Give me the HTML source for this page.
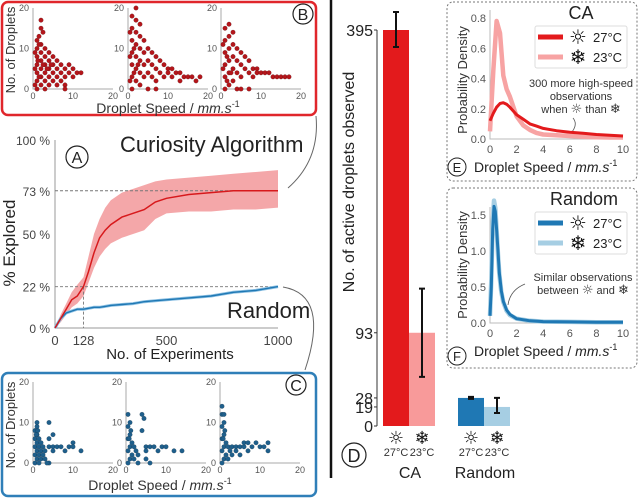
<!DOCTYPE html>
<html><head><meta charset="utf-8">
<style>
html,body{margin:0;padding:0;background:#fff;}
svg{display:block;font-family:"Liberation Sans","DejaVu Sans",sans-serif;}
.ic{font-family:"DejaVu Sans",sans-serif;}
</style></head>
<body>
<svg id="fig" width="640" height="499" viewBox="0 0 640 499" xmlns="http://www.w3.org/2000/svg">
<rect x="2" y="2" width="314" height="113" rx="6" fill="none" stroke="#e0262b" stroke-width="2.5"/>
<text x="-50" y="15" transform="rotate(-90)" text-anchor="middle" font-size="13" fill="#333">No. of Droplets</text>
<text x="168" y="113" text-anchor="middle" font-size="14" fill="#333">Droplet Speed / <tspan font-style="italic">mm.s</tspan><tspan font-size="9" dy="-6">-1</tspan></text>
<circle cx="303" cy="14" r="10" fill="#fff" stroke="#222" stroke-width="1.2"/>
<text x="303" y="20" text-anchor="middle" font-size="16" fill="#222">B</text>
<rect x="2" y="373" width="314" height="123" rx="6" fill="none" stroke="#2f7fb8" stroke-width="2.5"/>
<text x="-425" y="15" transform="rotate(-90)" text-anchor="middle" font-size="13" fill="#333">No. of Droplets</text>
<text x="160" y="490" text-anchor="middle" font-size="14" fill="#333">Droplet Speed / <tspan font-style="italic">mm.s</tspan><tspan font-size="9" dy="-6">-1</tspan></text>
<circle cx="296" cy="385" r="10" fill="#fff" stroke="#222" stroke-width="1.2"/>
<text x="296" y="391" text-anchor="middle" font-size="16" fill="#222">C</text>
<text x="-243" y="15" transform="rotate(-90)" text-anchor="middle" font-size="17" fill="#222">% Explored</text>
<text x="170" y="359" text-anchor="middle" font-size="15" fill="#222">No. of Experiments</text>
<circle cx="77" cy="157" r="11" fill="#fff" stroke="#222" stroke-width="1.2"/>
<text x="77" y="163" text-anchor="middle" font-size="16" fill="#222">A</text>
<text x="120" y="152" font-size="22" fill="#222">Curiosity Algorithm</text>
<text x="227" y="318" font-size="22" fill="#222">Random</text>
<path d="M288,188 Q320,160 316,116" fill="none" stroke="#666" stroke-width="1"/>
<path d="M283,287 Q330,295 305,370" fill="none" stroke="#666" stroke-width="1"/>
<line x1="331" y1="0" x2="331" y2="478" stroke="#111" stroke-width="2.5"/>
<text x="-182" y="354" transform="rotate(-90)" text-anchor="middle" font-size="16" fill="#222">No. of active droplets observed</text>
<circle cx="354" cy="455" r="12" fill="#fff" stroke="#222" stroke-width="1.2"/>
<text x="354" y="462" text-anchor="middle" font-size="18" fill="#222">D</text>
<text x="410" y="478" text-anchor="middle" font-size="16" fill="#222">CA</text>
<text x="485" y="478" text-anchor="middle" font-size="16" fill="#222">Random</text>
<rect x="447" y="2" width="190" height="179" rx="6" fill="none" stroke="#777" stroke-width="1" stroke-dasharray="2,2"/>
<rect x="447" y="188" width="190" height="180" rx="6" fill="none" stroke="#777" stroke-width="1" stroke-dasharray="2,2"/>
<text x="-80" y="467" transform="rotate(-90)" text-anchor="middle" font-size="13" fill="#333">Probability Density</text>
<text x="-265" y="467" transform="rotate(-90)" text-anchor="middle" font-size="13" fill="#333">Probability Density</text>
<text x="474" y="172" font-size="14" fill="#222">Droplet Speed / <tspan font-style="italic">mm.s</tspan><tspan font-size="9" dy="-6">-1</tspan></text>
<text x="474" y="356" font-size="14" fill="#222">Droplet Speed / <tspan font-style="italic">mm.s</tspan><tspan font-size="9" dy="-6">-1</tspan></text>
<circle cx="457" cy="167" r="9" fill="#fff" stroke="#222" stroke-width="1"/>
<text x="457" y="172" text-anchor="middle" font-size="13" fill="#222">E</text>
<circle cx="457" cy="356" r="9" fill="#fff" stroke="#222" stroke-width="1"/>
<text x="457" y="361" text-anchor="middle" font-size="13" fill="#222">F</text>
<text x="581" y="19" text-anchor="middle" font-size="18" fill="#222">CA</text>
<text x="584" y="205" text-anchor="middle" font-size="18" fill="#222">Random</text>
<text x="581" y="87" text-anchor="middle" font-size="11" fill="#333">300 more high-speed</text>
<text x="581" y="100" text-anchor="middle" font-size="11" fill="#333">observations</text>
<text x="581" y="113" text-anchor="middle" font-size="11" fill="#333">when <tspan class="ic" font-size="13">☼</tspan>  than <tspan class="ic" font-size="13">❄</tspan></text>
<path d="M573,118 Q578,124 572,132" fill="none" stroke="#555" stroke-width="0.8"/>
<text x="583" y="281" text-anchor="middle" font-size="11" fill="#333">Similar observations</text>
<text x="583" y="294" text-anchor="middle" font-size="11" fill="#333">between <tspan class="ic" font-size="13">☼</tspan>  and <tspan class="ic" font-size="13">❄</tspan></text>
<path d="M525,284 Q510,290 508,305" fill="none" stroke="#555" stroke-width="0.8"/>
<g id="dyn"></g>
</svg>
<script>
const expX = [0, 25, 50, 75, 100, 128, 150, 175, 200, 225, 250, 300, 350, 400, 450, 500, 600, 700, 800, 900, 1000];
const caMean = [0, 5, 10, 15, 17, 22, 30, 40, 48, 52, 55, 59, 61, 63, 67, 69, 71, 72, 73, 73, 73];
const caUpper = [0, 7, 13, 19, 23, 27, 38, 50, 58, 64, 68, 72, 74, 76, 78, 79, 80, 81, 82, 83, 84];
const caLower = [0, 3, 7, 11, 13, 17, 24, 32, 38, 42, 45, 48, 50, 52, 58, 61, 62, 62, 63, 63, 64];
const rndMean = [0, 5, 8, 9, 10, 10, 10.5, 11, 11, 11.5, 12, 12.5, 13, 14, 14.5, 15, 16, 17, 19, 20, 22];
const aYTicks = [0, 22, 50, 73, 100];
const aYTickLabels = ["0 %", "22 %", "50 %", "73 %", "100 %"];
const aXTicks = [0, 128, 500, 1000];
const barGroups = ["CA", "CA", "Random", "Random"];
const barTemps = ["27°C", "23°C", "27°C", "23°C"];
const barValues = [395, 93, 28, 19];
const barErrLow = [378, 49, 27, 13];
const barErrHigh = [413, 137, 29, 28];
const dYTicks = [0, 19, 28, 93, 395];
const eX = [0, 0.25, 0.5, 0.75, 1, 1.25, 1.5, 2, 2.5, 3, 3.5, 4, 5, 6, 7, 8, 9, 10];
const e27 = [0.12, 0.17, 0.21, 0.235, 0.24, 0.23, 0.21, 0.16, 0.13, 0.1, 0.085, 0.07, 0.055, 0.045, 0.038, 0.03, 0.025, 0.02];
const e23 = [0.05, 0.45, 0.78, 0.7, 0.42, 0.33, 0.28, 0.15, 0.09, 0.06, 0.04, 0.03, 0.025, 0.02, 0.015, 0.012, 0.01, 0.01];
const eYTicks = [0, 0.2, 0.4, 0.6, 0.8];
const fX = [0, 0.1, 0.2, 0.3, 0.4, 0.5, 0.6, 0.7, 0.85, 1, 1.25, 1.5, 2, 3, 4, 6, 8, 10];
const f27 = [0.1, 0.5, 1.3, 1.62, 1.55, 1.3, 1.0, 0.7, 0.45, 0.3, 0.18, 0.12, 0.06, 0.03, 0.02, 0.015, 0.01, 0.01];
const f23 = [0.1, 0.6, 1.4, 1.7, 1.6, 1.3, 0.95, 0.68, 0.43, 0.29, 0.17, 0.11, 0.06, 0.03, 0.02, 0.015, 0.01, 0.01];
const fYTicks = [0, 0.5, 1.0, 1.5];
const densXTicks = [0, 2, 4, 6, 8, 10];
const scatB1 = [[1,0],[1,2],[1,4],[1,6],[1,8],[1,10],[1,12],[1.5,13],[2,17],[2,15],[2,11],[2,9],[2,7],[2,5],[2,3],[2,1],[2.5,14],[3,10],[3,8],[3,6],[3,4],[3,2],[3,0],[4,9],[4,7],[4,5],[4,3],[5,8],[5,6],[5,4],[5,2],[6,7],[6,5],[6,3],[7,6],[7,4],[7,2],[8,5],[8,3],[8,1],[9,4],[9,6],[10,3],[10,5],[11,4],[12,4],[0.5,1],[0.5,5],[0.5,9],[1.2,7],[4,1],[6,1],[8,0],[1.5,3],[1.5,11],[2.5,6],[3.5,5],[4.5,6]];
const scatB2 = [[1,0],[1,3],[1,6],[1,9],[1,12],[1,15],[1,18],[2,20],[2,17],[2,14],[2,11],[2,8],[2,5],[2,2],[3,13],[3,10],[3,7],[3,4],[3,1],[4,12],[4,9],[4,6],[4,3],[5,10],[5,7],[5,4],[6,9],[6,6],[6,3],[7,8],[7,5],[7,2],[8,7],[8,4],[9,6],[9,3],[10,5],[10,4],[11,5],[11,3],[12,4],[13,4],[13,2],[14,3],[15,3],[16,3],[17,2],[18,3],[0.5,2],[0.5,8],[0.5,14],[5,0],[7,0],[3,16],[1.5,4],[1.5,10],[2.5,6]];
const scatB3 = [[1,0],[1,3],[1,6],[1,9],[1,12],[1,15],[2,16],[2,13],[2,10],[2,7],[2,4],[2,1],[3,14],[3,11],[3,8],[3,5],[3,2],[4,10],[4,7],[4,4],[5,9],[5,6],[5,3],[6,8],[6,5],[7,7],[7,4],[8,5],[8,3],[9,5],[9,4],[10,4],[11,4],[12,4],[13,3],[14,3],[15,3],[16,3],[17,3],[4,0],[5,0],[7,0],[0.5,5],[0.5,11],[1.5,2],[1.5,8],[2.5,4]];
const scatC1 = [[0.5,0],[0.5,2],[0.5,4],[0.5,6],[0.5,8],[1,10],[1,9],[1,7],[1,5],[1,3],[1,1],[1.5,6],[1.5,4],[1.5,2],[1.5,0],[2,5],[2,3],[2,1],[2.5,4],[2.5,2],[3,3],[3,1],[4,10],[4,6],[4,4],[4,0],[5,4],[5,3],[5,7],[6,4],[7,4],[8,3],[9,4],[10,5],[10,4],[12,3],[3.5,0],[0.8,7],[1.2,8]];
const scatC2 = [[0.5,0],[0.5,3],[0.5,6],[0.5,9],[0.5,12],[1,10],[1,7],[1,4],[1,1],[1.5,5],[1.5,2],[2,4],[2,1],[2.5,3],[3,2],[3,0],[4,12],[4,8],[4.5,11],[5,4],[5,3],[5,1],[6,0],[6,4],[7,4],[8,3],[9,4],[10,4],[12,3],[14,3],[0.8,6],[1.2,8]];
const scatC3 = [[0.5,0],[0.5,3],[0.5,6],[0.5,9],[0.5,12],[0.5,14],[1,12],[1,10],[1,7],[1,4],[1,1],[1.5,5],[1.5,2],[2,4],[2,1],[2.5,3],[3,2],[3,4],[4,4],[4,3],[5,4],[5,2],[6,4],[6,5],[7,5],[7,3],[8,4],[9,5],[10,4],[11,4],[12,5],[12,3],[0.8,6],[1.2,8]];
const scatTicks = [0, 10, 20];

const NS = "http://www.w3.org/2000/svg";
const root = document.getElementById("dyn");
function mk(tag, attrs, parent) {
  const e = document.createElementNS(NS, tag);
  for (const k in attrs) e.setAttribute(k, attrs[k]);
  (parent || root).appendChild(e);
  return e;
}
function txt(x, y, s, size, anchor, fill) {
  const t = mk("text", {x: x, y: y, "font-size": size, "text-anchor": anchor || "middle", fill: fill || "#444"});
  t.textContent = s;
  return t;
}
function lin(d0, d1, r0, r1) { return v => r0 + (v - d0) * (r1 - r0) / (d1 - d0); }
function pathOf(xs, ys, fx, fy) { return xs.map((v, i) => (i ? "L" : "M") + fx(v).toFixed(1) + "," + fy(ys[i]).toFixed(1)).join(""); }

function scatter(pts, x0, yTop, yBot, color, name) {
  const fx = lin(0, 20, x0, x0 + 80), fy = lin(0, 20, yBot, yTop);
  const ax = mk("path", {d: `M${x0},${yTop} V${yBot} H${x0 + 80}`, fill: "none", stroke: "#aaa", "stroke-width": 1});
  
  
  scatTicks.forEach(t => {
    txt(x0 - 4, fy(t) + 3, String(t), 9, "end", "#555");
    txt(fx(t), yBot + 10, String(t), 9, "middle", "#555");
  });
  pts.forEach(p => {
    const c = mk("circle", {cx: fx(p[0]), cy: fy(p[1]), r: 2.3, fill: color, stroke: "#00000055", "stroke-width": 0.4});
    
    
  });
}
scatter(scatB1, 33, 8, 89, "#b3161b", "scatter-b1");
scatter(scatB2, 128, 8, 89, "#b3161b", "scatter-b2");
scatter(scatB3, 221, 8, 89, "#b3161b", "scatter-b3");
scatter(scatC1, 33, 382, 463, "#1f5f8b", "scatter-c1");
scatter(scatC2, 126, 382, 463, "#1f5f8b", "scatter-c2");
scatter(scatC3, 220, 382, 463, "#1f5f8b", "scatter-c3");

(function () {
  const fx = lin(0, 1000, 55, 278), fy = lin(0, 100, 328, 140);
  const ax = mk("path", {d: "M55,140 V328 H278", fill: "none", stroke: "#999", "stroke-width": 1});
  
  
  aYTicks.forEach((t, i) => txt(50, fy(t) + 5, aYTickLabels[i], 12, "end", "#444"));
  aXTicks.forEach(t => txt(fx(t), 345, String(t), 13, "middle", "#444"));
  const band = mk("path", {d: pathOf(expX, caUpper, fx, fy) + expX.slice().reverse().map((v, i) => "L" + fx(v) + "," + fy(caLower[expX.length - 1 - i])).join("") + "Z", fill: "#f08a8c", "fill-opacity": 0.75});
  
  
  [[73, 1000], [22, 1000]].forEach(([p, e]) => {
    const l = mk("line", {x1: 55, y1: fy(p), x2: fx(e), y2: fy(p), stroke: "#777", "stroke-dasharray": "3,2", "stroke-width": 0.9});
    
    
  });
  const v = mk("line", {x1: fx(128), y1: fy(22), x2: fx(128), y2: 328, stroke: "#777", "stroke-dasharray": "3,2", "stroke-width": 0.9});
  
  
  const rb = mk("path", {d: pathOf(expX, rndMean, fx, fy), fill: "none", stroke: "#8cc0e3", "stroke-width": 3});
  
  
  const rl = mk("path", {d: pathOf(expX, rndMean, fx, fy), fill: "none", stroke: "#1f78b4", "stroke-width": 1.4});
  
  
  const cl = mk("path", {d: pathOf(expX, caMean, fx, fy), fill: "none", stroke: "#d7191c", "stroke-width": 1.5});
  
  
})();

(function () {
  const fy = lin(0, 395, 426, 30);
  const barX = [383, 409, 458, 484], bw = 26;
  const cols = ["#e31a1c", "#f89a9a", "#1f78b4", "#a6cee3"];
  const ax = mk("path", {d: "M377,30 V426", fill: "none", stroke: "#333", "stroke-width": 1});
  
  
  dYTicks.forEach(t => {
    txt(373, fy(t) + 6, String(t), 16, "end", "#222");
    mk("line", {x1: 374, y1: fy(t), x2: 377, y2: fy(t), stroke: "#333"});
  });
  barValues.forEach((v, i) => {
    const r = mk("rect", {x: barX[i], y: fy(v), width: bw, height: fy(0) - fy(v), fill: cols[i]});
    
    
    const cx = barX[i] + bw / 2;
    const e = mk("path", {d: `M${cx},${fy(barErrHigh[i])} V${fy(barErrLow[i])} M${cx - 3},${fy(barErrHigh[i])} H${cx + 3} M${cx - 3},${fy(barErrLow[i])} H${cx + 3}`, stroke: "#111", "stroke-width": 2, fill: "none"});
    
    
    const ic = txt(cx, 444, i % 2 === 0 ? "☼" : "❄", 18, "middle", "#111");
    ic.setAttribute("class", "ic");
    txt(cx, 456, barTemps[i], 11, "middle", "#333");
  });
})();

function density(xs, sA, sB, yMax, yTicks, yBot, yTop, cA, cB, legY, name) {
  const fx = lin(0, 10, 490, 623), fy = lin(0, yMax, yBot, yTop);
  const ax = mk("path", {d: `M490,${yTop - 8} V${yBot} H623`, fill: "none", stroke: "#bbb", "stroke-width": 1});
  
  
  yTicks.forEach(t => txt(486, fy(t) + 4, t.toFixed(1), 11, "end", "#555"));
  densXTicks.forEach(t => txt(fx(t), yBot + 14, String(t), 11, "middle", "#555"));
  const b = mk("path", {d: pathOf(xs, sB, fx, fy), fill: "none", stroke: cB, "stroke-width": 4.5, "stroke-linejoin": "round"});
  
  
  const a = mk("path", {d: pathOf(xs, sA, fx, fy), fill: "none", stroke: cA, "stroke-width": 3, "stroke-linejoin": "round"});
  
  
  const lg = mk("rect", {x: 535, y: legY, width: 92, height: 42, fill: "#fff", stroke: "#ddd", rx: 2});
  
  
  [[cA, "☼", "27°C"], [cB, "❄", "23°C"]].forEach((e, i) => {
    const y = legY + 11 + i * 20;
    mk("line", {x1: 538, y1: y, x2: 563, y2: y, stroke: e[0], "stroke-width": 5});
    const ic = txt(578, y + 7, e[1], 20, "middle", "#111");
    ic.setAttribute("class", "ic");
    txt(593, y + 5, e[2], 13, "start", "#222");
  });
}
density(eX, e27, e23, 0.8, eYTicks, 139, 18, "#e31a1c", "#f7a3a3", 26, "panel-e");
density(fX, f27, f23, 1.5, fYTicks, 323, 215, "#1f78b4", "#a6cee3", 212, "panel-f");
</script>
</body></html>
